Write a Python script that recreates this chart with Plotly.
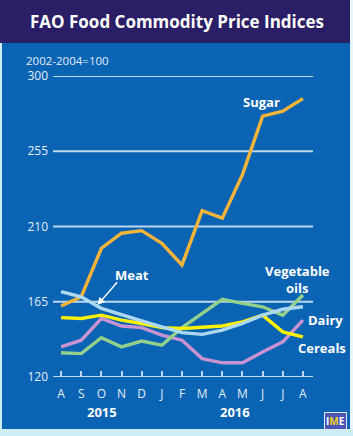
import plotly.graph_objects as go

months = ["A", "S", "O", "N", "D", "J", "F", "M", "A", "M", "J", "J", "A"]
sugar = [162.5, 168, 197, 206, 207.5, 200, 187, 219.5, 215, 241, 276, 279, 286.5]
meat = [171, 168, 161, 157, 153.5, 150, 146.5, 145.5, 148, 152, 157, 160.5, 162]
cereals = [155.5, 155, 157, 154, 152, 149.5, 149, 149.5, 150.5, 153, 157, 147, 144]
dairy = [138, 142, 155, 150.5, 149.5, 145, 142, 131, 128.5, 128.5, 135, 141, 154]
vegoils = [134.5, 134, 143.5, 138, 141.5, 139, 149.5, 158, 166.5, 164, 162, 157, 169]
yticks = [120, 165, 210, 255, 300]

BLUE = "#0a63b3"
NAVY = "#2a1e66"
GRID = "#bcd8ee"
TXT = "#e2eef8"
FONT = "Open Sans"

W, H = 353, 436
L, R, T, B = 53, 313, 76, 377

x = list(range(len(months)))
fig = go.Figure()
series = [
    (sugar, "#f4b43a"),
    (dairy, "#c893d2"),
    (vegoils, "#92d08c"),
    (cereals, "#fff200"),
    (meat, "#acd9f0"),
]
for vals, col in series:
    fig.add_trace(go.Scatter(x=x, y=vals, mode="lines",
                             line=dict(color=col, width=3.4),
                             hoverinfo="skip", showlegend=False))

def px(xp):
    return (xp - L) / (R - L)

def py(yp):
    return (B - yp) / (B - T)

shapes = []
LB = "#cdeef6"
for (x0, x1, y0, y1, col) in [
    (0, W, 0, 43, NAVY),
    (0, 2, 43, H, LB),
    (350, W, 0, H, "#e8f6fa"),
    (0, W, 429, H, LB),
]:
    shapes.append(dict(type="rect", xref="paper", yref="paper", layer="above",
                       x0=px(x0), x1=px(x1), y0=py(y1), y1=py(y0),
                       fillcolor=col, line=dict(width=0)))
# gridlines
for v in yticks:
    shapes.append(dict(type="line", xref="paper", yref="y", layer="below",
                       x0=0, x1=1, y0=v, y1=v,
                       line=dict(color=GRID, width=2)))

def pann(text, xp, yp, size, color="white", xanchor="center", **kw):
    return dict(text=text, xref="paper", yref="paper", x=px(xp), y=py(yp),
                xanchor=xanchor, yanchor="middle", showarrow=False,
                font=dict(family=FONT, size=size, color=color), **kw)

ann = []
ann.append(pann("<b>FAO Food Commodity Price Indices</b>", 177, 22, 17))
ann.append(pann("2002-2004=100", 24, 60, 11.5, TXT, xanchor="left"))
ann.append(pann("<b>2015</b>", 102, 412, 13))
ann.append(pann("<b>2016</b>", 235, 412, 13))

lab = dict(family=FONT, size=13, color="white")
def dann(text, xv, yv, **kw):
    return dict(text=text, x=xv, y=yv, xanchor="center", yanchor="middle",
                showarrow=False, font=lab, **kw)

ann.append(dann("<b>Sugar</b>", 9.95, 284.5))
ann.append(dann("<b>Meat</b>", 3.5, 181))
ann.append(dict(text="", x=1.8, y=163, ax=2.85, ay=177.5, axref="x", ayref="y",
                showarrow=True, arrowhead=2, arrowsize=1, arrowwidth=1.5,
                arrowcolor="white"))
ann.append(dann("<b>Vegetable<br>oils</b>", 11.75, 178.5))
ann.append(dict(text="<b>Dairy</b>", xref="paper", yref="y", x=px(325), y=154.2,
                xanchor="center", yanchor="middle", showarrow=False, font=lab))
ann.append(dict(text="<b>Cereals</b>", xref="paper", yref="y", x=px(322), y=137.4,
                xanchor="center", yanchor="middle", showarrow=False, font=lab))
ann.append(pann("<b><span style='color:white'>I</span>"
                "<span style='color:#f2d21a'>M</span>"
                "<span style='color:white'>E</span></b>",
                335, 421, 10, bgcolor="#4a55b5", borderpad=1,
                bordercolor="#dfe8f8", borderwidth=1))

fig.update_layout(
    width=W, height=H,
    margin=dict(l=L, r=W - R, t=T, b=H - B),
    paper_bgcolor=BLUE, plot_bgcolor="rgba(0,0,0,0)",
    shapes=shapes, annotations=ann,
    xaxis=dict(range=[-0.4, 12.5], tickvals=x, ticktext=months,
               showgrid=False, zeroline=False, showline=False,
               ticks="inside", ticklen=6, tickwidth=1.5, tickcolor=GRID,
               ticklabelstandoff=8,
               tickfont=dict(family=FONT, size=12, color=TXT), fixedrange=True),
    yaxis=dict(range=[120, 300], tickvals=yticks, showgrid=False, zeroline=False,
               showline=False, ticks="", ticklabelstandoff=4,
               tickfont=dict(family=FONT, size=12, color=TXT), fixedrange=True),
)

fig.write_html("out.html")
